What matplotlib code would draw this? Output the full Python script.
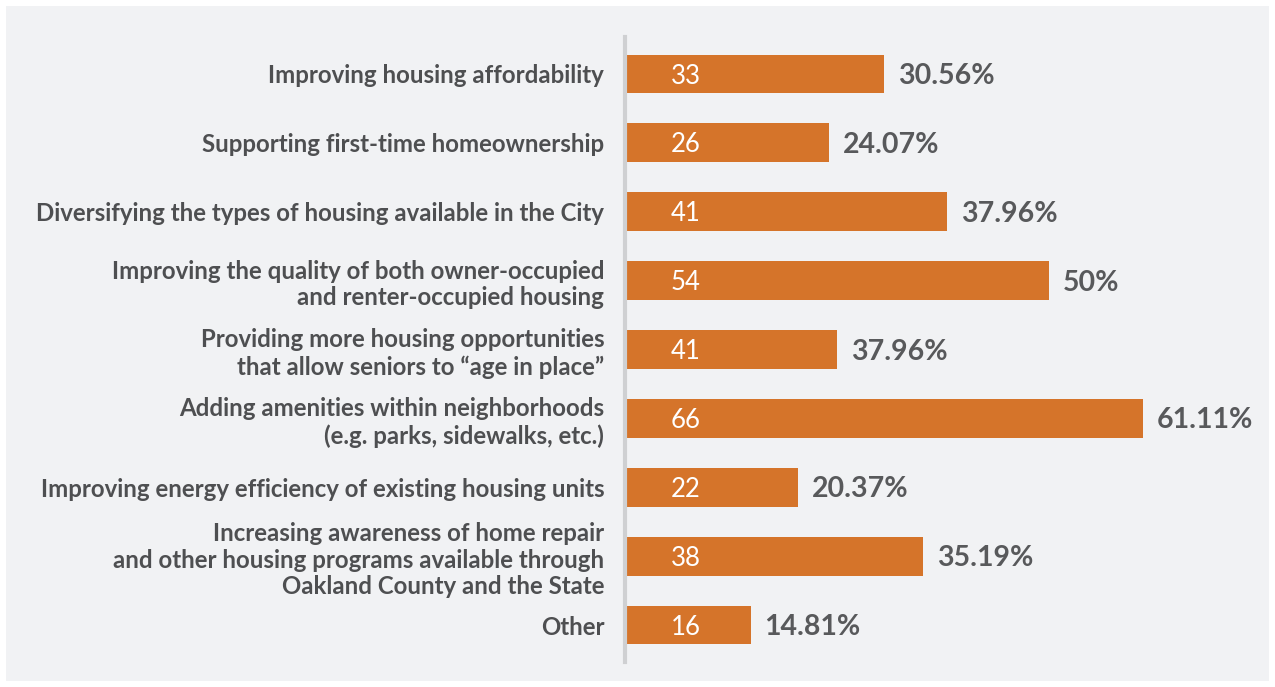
#!/usr/bin/env python3
# -*- coding: utf-8 -*-

import matplotlib
matplotlib.use("Agg")
import matplotlib.pyplot as plt
from matplotlib.patches import Rectangle

# survey answers, top to bottom
categories = [
  "Improving housing affordability",
  "Supporting first-time homeownership",
  "Diversifying the types of housing available in the City",
  "Improving the quality of both owner-occupied\nand renter-occupied housing",
  "Providing more housing opportunities\nthat allow seniors to \u201cage in place\u201d",
  "Adding amenities within neighborhoods\n(e.g. parks, sidewalks, etc.)",
  "Improving energy efficiency of existing housing units",
  "Increasing awareness of home repair\nand other housing programs available through\nOakland County and the State",
  "Other",
]
counts = [33, 26, 41, 54, 41, 66, 22, 38, 16]
# bar lengths as drawn in the picture (5th bar is drawn shorter than its count)
bar_lengths = [33, 26, 41, 54, 27, 66, 22, 38, 16]
percents = ["30.56%", "24.07%", "37.96%", "50%", "37.96%", "61.11%", "20.37%", "35.19%", "14.81%"]


def main():
  W, H = 1275, 687
  fig = plt.figure(figsize=(W / 100, H / 100), dpi=100)
  fig.patch.set_facecolor("white")
  # light panel behind everything
  fig.add_artist(Rectangle((6 / W, 6 / H), 1263 / W, 675 / H,
                           transform=fig.transFigure, facecolor="#f1f2f4",
                           edgecolor="none", zorder=-10))

  ax = fig.add_axes([625 / W, 1 - 662 / H, 644 / W, 625 / H])
  ax.set_facecolor("none")
  n = len(categories)
  y = list(range(n))
  ax.barh(y, bar_lengths, height=0.565, color="#d5742a", zorder=2)
  ax.set_xlim(0, 82)
  ax.set_ylim(n - 0.463, -0.537)

  for s in ("top", "right", "bottom"):
    ax.spines[s].set_visible(False)
  ax.spines["left"].set_color("#cfd0d2")
  ax.spines["left"].set_linewidth(3)
  ax.set_xticks([])
  ax.set_yticks(y)
  ax.set_yticklabels(categories, fontsize=17.3, color="#4e4f51", fontweight="bold",
                     family=["Lato", "DejaVu Sans"], linespacing=1.2)
  ax.tick_params(axis="y", length=0, pad=15)

  for i in range(n):
    ax.text(7.7, i + 0.03, str(counts[i]), ha="center", va="center", color="white",
            fontsize=18.5, family=["Lato", "DejaVu Sans"])
    ax.annotate(percents[i], (bar_lengths[i], i + 0.03), xytext=(10, 0),
                textcoords="offset points", ha="left", va="center",
                color="#58595b", fontsize=20.5, fontweight="bold",
                family=["Lato", "DejaVu Sans"])

  fig.savefig("out.png", dpi=100, facecolor="white")


if __name__ == "__main__":
  main()
